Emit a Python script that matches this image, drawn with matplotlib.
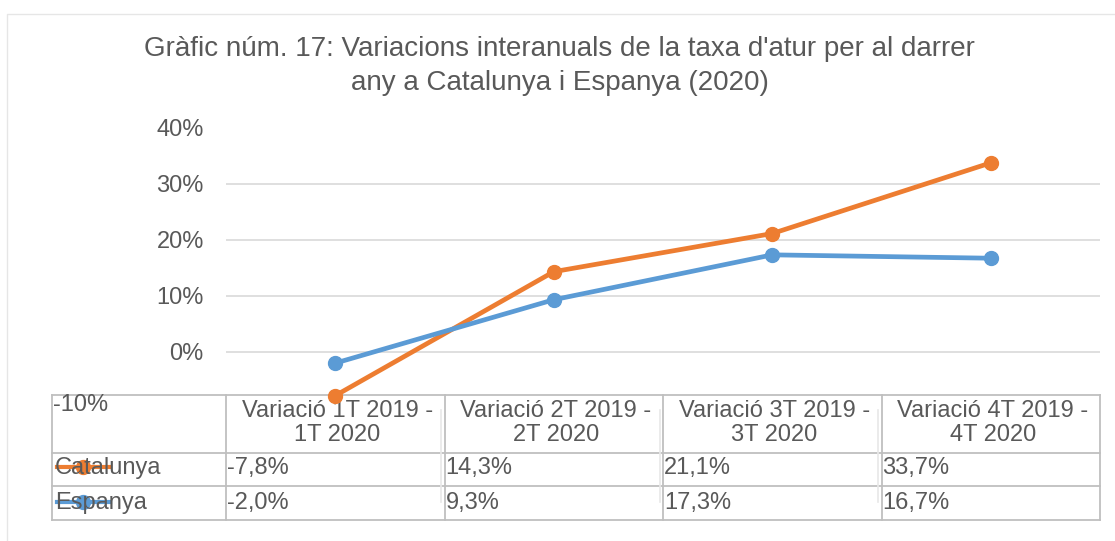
import matplotlib
matplotlib.use("Agg")
import matplotlib.pyplot as plt

plt.rcParams['font.family'] = ['Liberation Sans', 'DejaVu Sans']

title = "Gràfic núm. 17: Variacions interanuals de la taxa d'atur per al darrer\nany a Catalunya i Espanya (2020)"
categories = ["Variació 1T 2019 -\n1T 2020", "Variació 2T 2019 -\n2T 2020",
              "Variació 3T 2019 -\n3T 2020", "Variació 4T 2019 -\n4T 2020"]
series_names = ["Catalunya", "Espanya"]
catalunya = [-7.8, 14.3, 21.1, 33.7]
espanya = [-2.0, 9.3, 17.3, 16.7]
yticks = [0, 10, 20, 30, 40]
ytick_labels = ["0%", "10%", "20%", "30%", "40%"]
ymin_label = "-10%"

colors = ["#ED7D31", "#5B9BD5"]
txt = "#595959"
W, H = 1115, 541
FS = 17

fig = plt.figure(figsize=(W / 100, H / 100), dpi=100)

def fy(py):
    return 1 - py / H

# main plot axes
top_px, bot_px = 127.5, 408
left_px, right_px = 226, 1100
ax = fig.add_axes([left_px / W, fy(bot_px), (right_px - left_px) / W, (bot_px - top_px) / H])
ax.set_zorder(2)
ax.patch.set_alpha(0)
ax.set_xlim(-0.5, len(categories) - 0.5)
ax.set_ylim(-10, 40)
ax.set_yticks(yticks)
ax.set_yticklabels(ytick_labels, fontsize=FS, color=txt)
ax.tick_params(axis='y', length=0, pad=16)
ax.set_xticks([])
for s in ax.spines.values():
    s.set_visible(False)
for v in yticks:
    ax.axhline(v, color="#d9d9d9", lw=1.2, zorder=1, xmin=-2 / (right_px - left_px))
x = list(range(len(categories)))
for vals, c in zip([catalunya, espanya], colors):
    ax.plot(x, vals, color=c, lw=3.4, marker='o', ms=10, clip_on=False, zorder=5,
            solid_capstyle='round')

# overlay axes in pixel coordinates for table
ov = fig.add_axes([0, 0, 1, 1])
ov.set_zorder(1)
ov.set_xlim(0, W)
ov.set_ylim(H, 0)
ov.axis('off')

# chart border
ov.plot([7, 7, W + 5], [H + 5, 14, 14], color="#e6e6e6", lw=1.0)

fig.text(0.5 + 2 / W, fy(66), title, ha='center', va='center', fontsize=20,
         color=txt, linespacing=1.37)

# table geometry
col_x = [ax.transData.transform((k - 0.5, 0))[0] for k in range(len(categories) + 1)]
tab_left = 52
row_y = [395, 453, 486, 520]
bc = "#bfbfbf"
for yy in row_y:
    ov.plot([tab_left, col_x[-1]], [yy, yy], color=bc, lw=1.3)
for xx in [tab_left] + col_x:
    ov.plot([xx, xx], [row_y[0], row_y[-1]], color=bc, lw=1.3)
for xx in col_x[1:-1]:
    ov.plot([xx - 3.5, xx - 3.5], [410, 502], color="#e8e8e8", lw=1.2)

# -10% label (Excel places it in the table corner)
ov.text(tab_left + 1, 405, ymin_label, ha='left', va='center', fontsize=FS, color=txt)

# header
for k, cat in enumerate(categories):
    cx = (col_x[k] + col_x[k + 1]) / 2 + 2
    ov.text(cx, 423, cat, ha='center', va='center', fontsize=FS, color=txt,
            linespacing=1.07)

# rows
row_centers = [468, 503]
for name, vals, c, yc in zip(series_names, [catalunya, espanya], colors, row_centers):
    ov.plot([57, 110], [yc - 1, yc - 1], color=c, lw=3.0, zorder=2)
    ov.plot([83], [yc - 1], marker='o', ms=10, color=c, zorder=2)
    ov.text(tab_left + 3, yc, name, ha='left', va='center', fontsize=FS, color=txt,
            zorder=3)
    for k, v in enumerate(vals):
        s = f"{v:.1f}".replace('.', ',') + '%'
        ov.text(col_x[k] + 1, yc, s, ha='left', va='center', fontsize=FS, color=txt)

fig.savefig("out.png", dpi=100, facecolor='white')
